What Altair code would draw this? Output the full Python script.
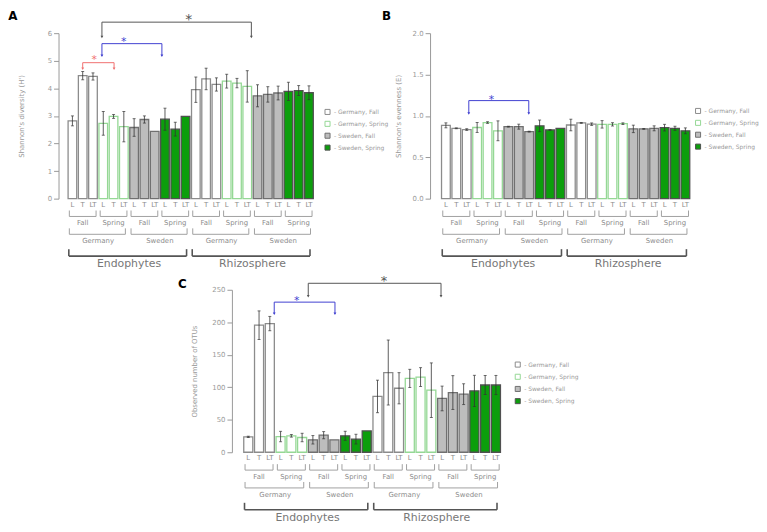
import altair as alt
import pandas as pd

# ---------------- data ----------------
tissues = ["L", "T", "LT"]
seasons = ["Fall", "Spring"]
countries = ["Germany", "Sweden"]
compartments = ["Endophytes", "Rhizosphere"]
groups = ["Germany, Fall", "Germany, Spring", "Sweden, Fall", "Sweden, Spring"]
group_fill = ["#ffffff", "#ffffff", "#bdbdbd", "#0c9e0c"]
group_stroke = ["#8c8c8c", "#95d895", "#707070", "#505050"]

shannon_h = [2.82, 4.46, 4.43, 2.73, 2.98, 2.61, 2.58, 2.87, 2.44, 2.88, 2.52, 2.98,
             3.95, 4.34, 4.14, 4.26, 4.19, 4.07, 3.73, 3.78, 3.83, 3.89, 3.92, 3.84]
shannon_h_err = [0.18, 0.15, 0.13, 0.43, 0.07, 0.55, 0.32, 0.13, 0, 0.40, 0.25, 0,
                 0.46, 0.39, 0.24, 0.25, 0.17, 0.57, 0.40, 0.28, 0.25, 0.33, 0.18, 0.25]

evenness = [0.886, 0.85, 0.835, 0.86, 0.92, 0.82, 0.87, 0.87, 0.81, 0.88, 0.83, 0.85,
            0.89, 0.915, 0.90, 0.898, 0.898, 0.906, 0.843, 0.843, 0.85, 0.858, 0.85, 0.82]
evenness_err = [0.03, 0.005, 0.01, 0.06, 0.01, 0.12, 0.005, 0.03, 0.005, 0.07, 0.005, 0,
                0.07, 0.005, 0.015, 0.045, 0.02, 0.01, 0.045, 0.005, 0.03, 0.04, 0.025, 0.035]

otus = [23.7, 195.5, 198, 24.2, 25.3, 22.7, 19.2, 26.3, 19.2, 25.3, 20.2, 32.8,
        85.9, 122.7, 98.5, 113.6, 115.7, 95.5, 82.8, 91.9, 89.4, 94.4, 103.5, 103.5]
otus_err = [1, 22, 11, 8, 2, 6.5, 6.5, 5.5, 0, 7, 7.5, 0,
            25, 50, 24, 14, 14.5, 42, 19, 26, 16, 24, 14.7, 14.7]

# significance brackets (data units of each panel)
sig_a = dict(x1=[1.0, 2.87, 2.87], x2=[4.05, 8.7, 17.4], yl=[4.93, 5.62, 6.4],
             ye=[4.71, 5.18, 5.86], sx=[2.12, 5.0, 11.3], sy=[5.13, 5.8, 6.6],
             color=["#f07070", "#4040d0", "#555555"], fs=[11, 11, 14])
sig_b = dict(x1=[2.2], x2=[7.96], yl=[1.185], ye=[1.03], sx=[4.37], sy=[1.23],
             color=["#4040d0"], fs=[11])
sig_c = dict(x1=[2.41, 5.57], x2=[8.05, 17.9], yl=[231, 260], ye=[213, 240],
             sx=[4.49, 12.6], sy=[238, 268], color=["#4040d0", "#555555"], fs=[11, 13])

# ---------------- derived tables ----------------
pos, tis, grp = [], [], []
for comp in compartments:
    for co in countries:
        for se in seasons:
            for t in tissues:
                pos.append(len(pos))
                tis.append(t)
                grp.append(f"{co}, {se}")


def level_frame(labels, span):
    return pd.DataFrame({"label": labels,
                         "start": [i * span for i in range(len(labels))],
                         "end": [i * span + span - 1 for i in range(len(labels))]})


lv1 = level_frame(seasons * 4, 3)
lv2 = level_frame(countries * 2, 6)
lv3 = level_frame(compartments, 12)
# frame, left pad, right pad, line colour, line width, font size, text colour, tick top, line y, text y
levels = [
    (lv1, 0.3, 0.3, "#a0a0a0", 1, 7, "#8c8c8c", 12, 18, 25),
    (lv2, 0.3, 0.15, "#a0a0a0", 1, 7, "#8c8c8c", 30, 36, 43),
    (lv3, 0.35, 0.1, "#555555", 1.6, 11, "#777777", 51, 58, 66),
]


def panel(letter, letter_xy, vals, errs, ymax, ticks, fmt, ytitle, title_pad,
          xdom, width, height, sig, legend_xy, legend_rowpad):
    df = pd.DataFrame({"pos": pos, "tissue": tis, "group": grp, "mean": vals, "err": errs})
    xs = alt.Scale(domain=xdom, nice=False, zero=False)
    ys = alt.Scale(domain=[0, ymax], nice=False)
    yaxis = alt.Axis(values=ticks, format=fmt, title=ytitle, grid=False,
                     labelFontSize=7, labelColor="#999999", labelPadding=2,
                     tickColor="#999999", tickSize=5, domainColor="#999999",
                     titleFontSize=7, titleFontWeight="normal", titleColor="#999999",
                     titlePadding=title_pad)

    def X(f):
        return alt.X(f, scale=xs, axis=None)

    def Y(f):
        return alt.Y(f, scale=ys, axis=yaxis)

    leg = alt.Legend(orient="none", legendX=legend_xy[0], legendY=legend_xy[1], title=None,
                     symbolType="square", symbolSize=26, symbolStrokeWidth=1,
                     labelFontSize=6, labelColor="#999999", labelExpr="'- ' + datum.label",
                     rowPadding=legend_rowpad, labelOffset=3, padding=0)

    base = alt.Chart(df)
    bars = base.transform_calculate(
        x0="datum.pos - 0.42", x1="datum.pos + 0.42"
    ).mark_bar(strokeWidth=1.3).encode(
        x=X("x0:Q"), x2="x1:Q", y=Y("mean:Q"), y2=alt.datum(0),
        fill=alt.Fill("group:N", scale=alt.Scale(domain=groups, range=group_fill), legend=leg),
        stroke=alt.Stroke("group:N", scale=alt.Scale(domain=groups, range=group_stroke), legend=leg),
    )
    eb = base.transform_filter("datum.err > 0").transform_calculate(
        lo="datum.mean - datum.err", hi="datum.mean + datum.err")
    err_rule = eb.mark_rule(color="#333333", strokeWidth=0.8).encode(
        x=X("pos:Q"), y=Y("lo:Q"), y2="hi:Q")
    cap_lo = eb.mark_tick(orient="horizontal", size=3, thickness=1, color="#333333").encode(
        x=X("pos:Q"), y=Y("lo:Q"))
    cap_hi = eb.mark_tick(orient="horizontal", size=3, thickness=1, color="#333333").encode(
        x=X("pos:Q"), y=Y("hi:Q"))
    tissue_text = base.mark_text(fontSize=7, color="#8c8c8c", baseline="middle").encode(
        x=X("pos:Q"), y=alt.value(height + 6), text="tissue:N")

    layers = [bars, err_rule, cap_lo, cap_hi, tissue_text]

    for fr, pl, pr, lc, lw, fs, tc, yt, yl, ytx in levels:
        b = alt.Chart(fr).transform_calculate(
            a=f"datum.start - {pl}", b=f"datum.end + {pr}", mid="(datum.start + datum.end) / 2")
        layers.append(b.mark_rule(color=lc, strokeWidth=lw).encode(
            x=X("a:Q"), x2="b:Q", y=alt.value(height + yl)))
        layers.append(b.mark_rule(color=lc, strokeWidth=lw).encode(
            x=X("a:Q"), y=alt.value(height + yt), y2=alt.value(height + yl)))
        layers.append(b.mark_rule(color=lc, strokeWidth=lw).encode(
            x=X("b:Q"), y=alt.value(height + yt), y2=alt.value(height + yl)))
        layers.append(b.mark_text(fontSize=fs, color=tc, baseline="middle").encode(
            x=X("mid:Q"), y=alt.value(height + ytx), text="label:N"))

    sdf = pd.DataFrame(sig)
    s = alt.Chart(sdf)
    col = alt.Color("color:N", scale=None)
    layers.append(s.mark_rule(strokeWidth=1).encode(x=X("x1:Q"), x2="x2:Q", y=Y("yl:Q"), color=col))
    layers.append(s.mark_rule(strokeWidth=1).encode(x=X("x1:Q"), y=Y("yl:Q"), y2="ye:Q", color=col))
    layers.append(s.mark_rule(strokeWidth=1).encode(x=X("x2:Q"), y=Y("yl:Q"), y2="ye:Q", color=col))
    layers.append(s.mark_point(shape="triangle-down", filled=True, size=8, opacity=1).encode(
        x=X("x1:Q"), y=Y("ye:Q"), color=col))
    layers.append(s.mark_point(shape="triangle-down", filled=True, size=8, opacity=1).encode(
        x=X("x2:Q"), y=Y("ye:Q"), color=col))
    layers.append(s.mark_text(text="*", baseline="middle", dy=3).encode(
        x=X("sx:Q"), y=Y("sy:Q"), color=col, size=alt.Size("fs:Q", scale=None)))

    lab = alt.Chart(pd.DataFrame({"letter": [letter]})).mark_text(
        fontSize=12, fontWeight="bold", color="#000000", baseline="middle", align="center"
    ).encode(x=alt.value(letter_xy[0]), y=alt.value(letter_xy[1]), text="letter:N")
    layers.append(lab)

    return alt.layer(*layers).properties(width=width, height=height)


pa = panel("A", (-46, -17), shannon_h, shannon_h_err, 6, [0, 1, 2, 3, 4, 5, 6], "d",
           "Shannon's diversity (H')", 23, [-1.35, 23.6], 259, 167, sig_a, (268, 76), 1.0)
pb = panel("B", (-44, -17), evenness, evenness_err, 2.0, [0, 0.5, 1.0, 1.5, 2.0], ".1f",
           "Shannon's evenness (E)", 11, [-1.52, 23.6], 264, 167, sig_b, (267, 75), 1.0)
pc = panel("C", (-50, -6), otus, otus_err, 250, [0, 50, 100, 150, 200, 250], "d",
           "Observed number of OTUs", 14, [-1.52, 23.6], 273, 164, sig_c, (285, 72), 1.3)

spacer = alt.Chart(pd.DataFrame({"v": [0]})).mark_point(opacity=0).encode(
    x=alt.value(0), y=alt.value(0)).properties(width=175, height=164)

top = alt.hconcat(pa, pb, spacing=116, bounds="flush").resolve_scale(
    fill="independent", stroke="independent").resolve_legend(fill="independent", stroke="independent")
bottom = alt.hconcat(spacer, pc, spacing=0, bounds="flush").resolve_scale(
    fill="independent", stroke="independent").resolve_legend(fill="independent", stroke="independent")

# the nested row counts with no height in a flush layout, so the gap includes row A/B's height
chart = alt.vconcat(top, bottom, spacing=259, bounds="flush").resolve_scale(
    fill="independent", stroke="independent").resolve_legend(
    fill="independent", stroke="independent").properties(padding=0).configure(
    font="DejaVu Sans").configure_view(stroke=None)

chart.save("out.html", embed_options={"renderer": "svg", "actions": False})
